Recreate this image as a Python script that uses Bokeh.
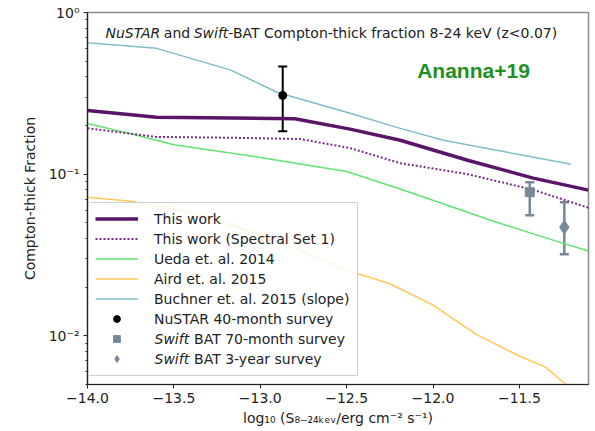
import numpy as np
from bokeh.plotting import figure
from bokeh.models import (ColumnDataSource, Whisker, TeeHead, Legend, LegendItem, Label,
                          FixedTicker, CustomJSTickFormatter, Range1d, BoxAnnotation)
from bokeh.embed import file_html
from bokeh.resources import INLINE

# ---------------- data ----------------
this_work_x = [-14.0, -13.6, -12.8, -12.48, -12.19, -11.8, -11.42, -11.1]
this_work_y = [0.248, 0.225, 0.22, 0.19, 0.162, 0.122, 0.0945, 0.0797]

set1_x = [-14.0, -13.6, -13.17, -12.77, -12.48, -12.19, -11.8, -11.42, -11.1]
set1_y = [0.192, 0.170, 0.168, 0.165, 0.145, 0.117, 0.100, 0.080, 0.062]

ueda_x = [-14.0, -13.75, -13.5, -13.0, -12.5, -12.19, -11.67, -11.27, -11.1]
ueda_y = [0.206, 0.178, 0.152, 0.127, 0.104, 0.081, 0.052, 0.038, 0.0335]

aird_x = [-14.0, -13.75, -13.5, -13.25, -13.0, -12.75, -12.5, -12.25, -12.0, -11.75, -11.5, -11.35, -11.23]
aird_y = [0.072, 0.068, 0.061, 0.052, 0.042, 0.033, 0.0255, 0.021, 0.0155, 0.0102, 0.0075, 0.0064, 0.005]

buchner_x = [-14.0, -13.6, -13.17, -12.9, -12.48, -12.19, -11.94, -11.2]
buchner_y = [0.65, 0.60, 0.44, 0.32, 0.238, 0.192, 0.162, 0.115]

nustar_x = [-12.87]
nustar_y = [0.307]
nustar_lo = [0.184]
nustar_hi = [0.464]

bat70_x = [-11.44]
bat70_y = [0.0774]
bat70_lo = [0.0558]
bat70_hi = [0.089]

bat3_x = [-11.24]
bat3_y = [0.047]
bat3_lo = [0.032]
bat3_hi = [0.067]

x_ticks = [-14.0, -13.5, -13.0, -12.5, -12.0, -11.5]
y_ticks = [0.01, 0.1, 1.0]
y_minor = [m * 10.0 ** e for e in (-3, -2, -1) for m in range(2, 10)]

X0, X1 = -14.0, -11.1
Y0, Y1 = 0.005, 1.0

# ---------------- colours ----------------
C_THIS = "#5a1468"
C_SET1 = "#7a2c88"
C_UEDA = "#5fe372"
C_AIRD = "#ffc857"
C_BUCH = "#7fbcca"
C_BAT = "#778899"
TXT = "#222222"
FONT = "DejaVu Sans"

# frame geometry (px) used to place text annotations
FL, FR, FT, FB = 87, 588, 12, 384


def px_x(px):
    return X0 + (px - FL) / (FR - FL) * (X1 - X0)


def px_y(py):
    return 10 ** (np.log10(Y0) + (FB - py) / (FB - FT) * (np.log10(Y1) - np.log10(Y0)))


p = figure(width=595, height=431, y_axis_type="log",
           x_range=Range1d(X0, X1), y_range=Range1d(Y0, Y1),
           output_backend="svg", toolbar_location=None,
           min_border_left=FL, min_border_right=595 - FR,
           min_border_top=FT, min_border_bottom=431 - FB)
p.background_fill_color = "white"
p.border_fill_color = "white"
p.outline_line_color = "#8a8a8a"
p.outline_line_width = 1.5
p.xgrid.visible = False
p.ygrid.visible = False

# axes
p.xaxis.ticker = FixedTicker(ticks=x_ticks)
p.xaxis.formatter = CustomJSTickFormatter(code="return (tick < 0 ? '\\u2212' : '') + Math.abs(tick).toFixed(1);")
p.yaxis.ticker = FixedTicker(ticks=y_ticks, minor_ticks=y_minor)
p.yaxis.formatter = CustomJSTickFormatter(code="""
const e = Math.round(Math.log10(tick));
const sup = {'-': '\\u207b', '0': '\\u2070', '1': '\\u00b9', '2': '\\u00b2', '3': '\\u00b3'};
return '10' + String(e).split('').map(c => sup[c]).join('');
""")
for ax in (p.xaxis[0], p.yaxis[0]):
    ax.axis_line_color = TXT
    ax.axis_line_width = 1.2
    ax.major_tick_line_color = TXT
    ax.minor_tick_line_color = TXT
    ax.major_tick_in = 0
    ax.major_tick_out = 4
    ax.minor_tick_in = 0
    ax.minor_tick_out = 2
    ax.major_label_text_font = FONT
    ax.major_label_text_font_size = "14px"
    ax.major_label_text_color = TXT
    ax.axis_label_text_font = FONT
    ax.axis_label_text_font_size = "14px"
    ax.axis_label_text_font_style = "normal"
    ax.axis_label_text_color = TXT
    ax.major_label_standoff = 4
    ax.axis_label_standoff = 4
p.xaxis.minor_tick_line_color = None
p.xaxis.axis_label = "log\u2081\u2080 (S\u2088\u208b\u2082\u2084\u2096\u2091\u1d65/erg cm\u207b\u00b2 s\u207b\u00b9)"
p.yaxis.axis_label = "Compton-thick Fraction"
p.yaxis.axis_label_standoff = 8

# curves
r_aird = p.line(aird_x, aird_y, line_color=C_AIRD, line_width=1.5)
r_buch = p.line(buchner_x, buchner_y, line_color=C_BUCH, line_width=1.5)
r_ueda = p.line(ueda_x, ueda_y, line_color=C_UEDA, line_width=1.5)
r_set1 = p.line(set1_x, set1_y, line_color=C_SET1, line_width=2, line_dash="2 2")
r_this = p.line(this_work_x, this_work_y, line_color=C_THIS, line_width=3.5)

# error bars
def add_err(xs, lo, hi, color, lw):
    src = ColumnDataSource(dict(x=xs, lower=lo, upper=hi))
    w = Whisker(base="x", lower="lower", upper="upper", source=src, dimension="height",
                line_color=color, line_width=lw,
                upper_head=TeeHead(size=9, line_color=color, line_width=lw),
                lower_head=TeeHead(size=9, line_color=color, line_width=lw))
    p.add_layout(w)


add_err(nustar_x, nustar_lo, nustar_hi, "black", 2)
add_err(bat70_x, bat70_lo, bat70_hi, C_BAT, 2.5)
add_err(bat3_x, bat3_lo, bat3_hi, C_BAT, 2.5)

r_nu = p.scatter(nustar_x, nustar_y, marker="circle", size=8, color="black")
r_b70 = p.scatter(bat70_x, bat70_y, marker="square", size=9, color=C_BAT)
r_b3 = p.scatter(bat3_x, bat3_y, marker="diamond", size=14, color=C_BAT)

# legend: translucent box drawn separately, legend itself transparent
PAD, GH, SP, NROW = 8, 17, 3, 8
leg_bottom = FB - 9
leg_top = leg_bottom - (2 * PAD + NROW * GH + (NROW - 1) * SP)
leg_right = 357
p.add_layout(BoxAnnotation(left=px_x(FL + 1), right=px_x(leg_right),
                           top=px_y(leg_top), bottom=px_y(leg_bottom),
                           fill_color="white", fill_alpha=0.82,
                           line_color="#d0d0d0", line_width=1, line_alpha=1.0))

NB = "\u00a0"
legend = Legend(items=[
    LegendItem(label="This work", renderers=[r_this]),
    LegendItem(label="This work (Spectral Set 1)", renderers=[r_set1]),
    LegendItem(label="Ueda et. al. 2014", renderers=[r_ueda]),
    LegendItem(label="Aird et. al. 2015", renderers=[r_aird]),
    LegendItem(label="Buchner et. al. 2015 (slope)", renderers=[r_buch]),
    LegendItem(label="NuSTAR 40-month survey", renderers=[r_nu]),
    LegendItem(label=NB * 9 + "BAT 70-month survey", renderers=[r_b70]),
    LegendItem(label=NB * 9 + "BAT 3-year survey", renderers=[r_b3]),
], location=(0, 9), margin=0, padding=PAD, spacing=SP,
    glyph_width=43, glyph_height=GH, label_height=GH, label_standoff=16,
    label_text_font=FONT, label_text_font_size="14px", label_text_color=TXT,
    background_fill_alpha=0, border_line_alpha=0)
p.add_layout(legend, "center")

lab_x = FL + PAD + 43 + 16
for i in (6, 7):
    yc = leg_top + PAD + i * (GH + SP) + GH / 2
    p.add_layout(Label(x=px_x(lab_x), y=px_y(yc), text="Swift", text_font=FONT,
                       text_font_size="14px", text_font_style="italic", text_color=TXT,
                       text_baseline="middle", text_align="left", level="overlay"))

# title inside the plot, with italic parts
em = 14.0
segments = [("NuSTAR", "italic", 3.85), (" and ", "normal", 2.45), ("Swift", "italic", 2.475),
            ("-BAT Compton-thick fraction 8-24 keV (z<0.07)", "normal", 0.0)]
cx = 105.0
for txt, style, w in segments:
    p.add_layout(Label(x=px_x(cx), y=px_y(32), text=txt.replace(" ", NB), text_font=FONT,
                       text_font_size="14px", text_font_style=style, text_color=TXT,
                       text_baseline="middle", text_align="left"))
    cx += w * em

p.add_layout(Label(x=px_x(473), y=px_y(70), text="Ananna+19", text_font="Liberation Sans",
                   text_font_size="21px", text_font_style="bold", text_color="#1f8f1f",
                   text_baseline="middle", text_align="center"))

open("out.html", "w").write(file_html(p, INLINE))
